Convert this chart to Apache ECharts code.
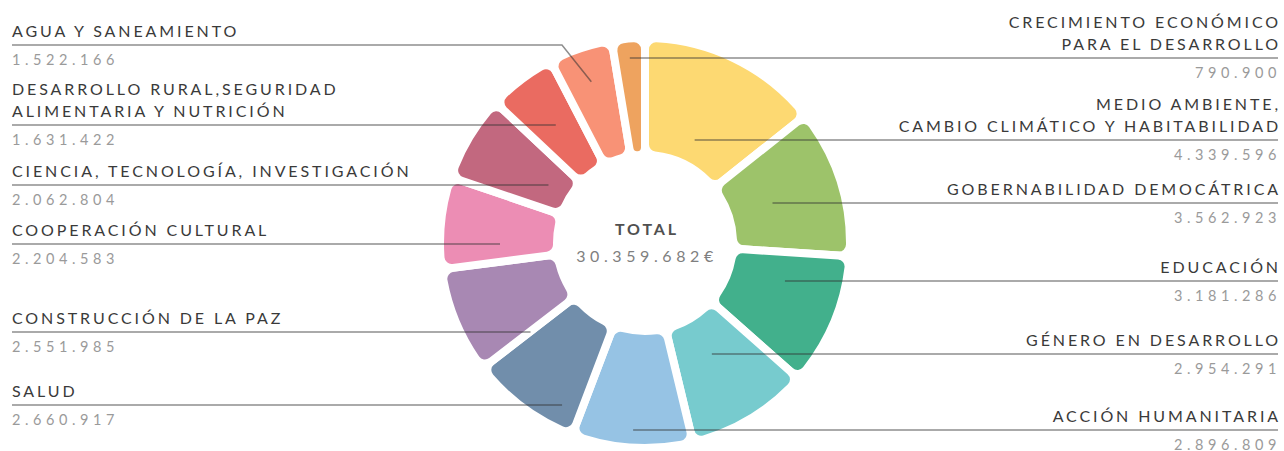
<!DOCTYPE html>
<html>
<head>
<meta charset="utf-8">
<script src="https://cdn.jsdelivr.net/npm/echarts@6/dist/echarts.min.js"></script>
<style>
  html, body { margin: 0; padding: 0; background: #fff; }
  #chart { width: 1284px; height: 451px; }
  /* canvas text has no letter-spacing in echarts, svg + css does */
  #chart text { letter-spacing: 2.9px; }
  #chart text[fill="#9a9a9a"] { letter-spacing: 4.6px; }
  #chart text[fill="#7f7f7f"] { letter-spacing: 4.6px; }
</style>
</head>
<body>
<div id="chart"></div>
<script>
// clockwise from 12 o'clock
const categories = [
  'MEDIO AMBIENTE,\nCAMBIO CLIMÁTICO Y HABITABILIDAD',
  'GOBERNABILIDAD DEMOCÁTRICA',
  'EDUCACIÓN',
  'GÉNERO EN DESARROLLO',
  'ACCIÓN HUMANITARIA',
  'SALUD',
  'CONSTRUCCIÓN DE LA PAZ',
  'COOPERACIÓN CULTURAL',
  'CIENCIA, TECNOLOGÍA, INVESTIGACIÓN',
  'DESARROLLO RURAL,SEGURIDAD\nALIMENTARIA Y NUTRICIÓN',
  'AGUA Y SANEAMIENTO',
  'CRECIMIENTO ECONÓMICO\nPARA EL DESARROLLO'
];
const values = [4339596, 3562923, 3181286, 2954291, 2896809, 2660917, 2551985, 2204583, 2062804, 1631422, 1522166, 790900];
const colors = ['#fdd972', '#9dc36a', '#42b08c', '#77cbce', '#96c3e4', '#718eab', '#a888b3', '#ec8db4', '#c2687f', '#ea6b61', '#f89276', '#eea35f'];

// label placement (layout only)
const labelSide = ['right', 'right', 'right', 'right', 'right', 'left', 'left', 'left', 'left', 'left', 'left', 'right'];
const leaderY = [140, 203, 281, 354, 430, 405, 332, 244, 185, 125, 45, 58];

const cx = 645, cy = 243;
const rIn = 88, rOut = 205;

function fmt(v) {
  return String(v).replace(/\B(?=(\d{3})+(?!\d))/g, '.');
}

const total = values.reduce((a, b) => a + b, 0);

// mid angle of each slice, radians clockwise from top
const midAngles = [];
let acc = 0;
values.forEach(function (v) {
  midAngles.push((acc + v / 2) / total * Math.PI * 2);
  acc += v;
});

function leaderPoints(i) {
  const t = midAngles[i];
  const y = leaderY[i];
  const dyUp = cy - y;
  const sinT = Math.sin(t), cosT = Math.cos(t);
  const edgeX = labelSide[i] === 'left' ? 12 : 1278;
  const rMid = Math.abs(cosT) > 1e-6 ? dyUp / cosT : -1;
  let end;
  if (rMid >= 105 && rMid <= 192) {
    end = [cx + rMid * sinT, y];
    return [end, [edgeX, y]];
  }
  if (Math.abs(dyUp) + 20 <= 190) {
    const r = Math.max(145, Math.abs(dyUp) + 20);
    const dx = Math.sqrt(r * r - dyUp * dyUp);
    end = [cx + (sinT < 0 ? -dx : dx), y];
    return [end, [edgeX, y]];
  }
  end = [cx + 170 * sinT, cy - 170 * cosT];
  const dir = labelSide[i] === 'left' ? -1 : 1;
  const bend = [end[0] + dir * (end[1] - y) * 0.8, y];
  return [end, bend, [edgeX, y]];
}

const pieData = categories.map(function (c, i) {
  return { name: c, value: values[i], itemStyle: { color: colors[i] } };
});

const chart = echarts.init(document.getElementById('chart'), null, { renderer: 'svg' });

chart.setOption({
  animation: false,
  title: {
    text: 'TOTAL',
    subtext: fmt(total) + '€',
    left: cx - 3,
    top: 215,
    textAlign: 'center',
    itemGap: 11,
    textStyle: { fontFamily: 'Lato', fontSize: 16, fontWeight: 'bold', color: '#505050' },
    subtextStyle: { fontFamily: 'Lato', fontSize: 16, color: '#7f7f7f' }
  },
  series: [
    {
      // the ring
      type: 'pie',
      center: [cx, cy],
      radius: [rIn, rOut],
      startAngle: 90,
      clockwise: true,
      silent: true,
      itemStyle: {
        borderColor: '#fff',
        borderWidth: 8,
        borderRadius: 11
      },
      label: { show: false },
      labelLine: { show: false },
      data: pieData
    },
    {
      // same slices, invisible, only carries labels so the leader lines sit on top of the ring
      type: 'pie',
      z: 4,
      center: [cx, cy],
      radius: [rIn, rOut],
      startAngle: 90,
      clockwise: true,
      silent: true,
      avoidLabelOverlap: false,
      itemStyle: { color: 'rgba(0,0,0,0)', borderWidth: 0 },
      label: {
        show: true,
        position: 'outside',
        formatter: function (p) {
          const lines = categories[p.dataIndex].split('\n').map(function (s) {
            return '{n|' + s + '}';
          });
          return lines.join('\n') + '\n{v|' + fmt(p.value) + '}';
        },
        rich: {
          n: { fontFamily: 'Lato', fontSize: 16, lineHeight: 22, color: '#3a3a3a' },
          v: { fontFamily: 'Lato', fontSize: 14.5, lineHeight: 36, color: '#9a9a9a' }
        }
      },
      labelLine: {
        show: true,
        length: 10,
        length2: 10,
        lineStyle: { color: 'rgba(50,50,50,0.55)', width: 1.5 }
      },
      labelLayout: function (params) {
        const i = params.dataIndex;
        const nLines = categories[i].split('\n').length;
        const side = labelSide[i];
        return {
          x: side === 'left' ? 12 : 1281,
          y: leaderY[i] - 4 - nLines * 22,
          align: side,
          verticalAlign: 'top',
          labelLinePoints: leaderPoints(i)
        };
      },
      data: categories.map(function (c, i) {
        return { name: c, value: values[i] };
      })
    }
  ]
});
</script>
</body>
</html>
